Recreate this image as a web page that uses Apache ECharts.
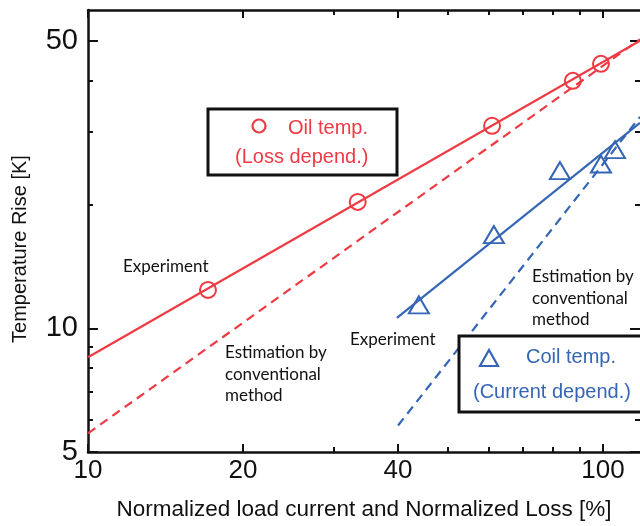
<!DOCTYPE html>
<html>
<head>
<meta charset="utf-8">
<script src="https://cdn.jsdelivr.net/npm/echarts@6/dist/echarts.min.js"></script>
<style>
html,body{margin:0;padding:0;background:#fff;}
#chart{width:640px;height:526px;}
</style>
</head>
<body>
<div id="chart"></div>
<script>
// tick values (real units, log axes)
const xMajor = [10, 20, 40, 100];
const xMinor = [30, 50, 60, 70, 80, 90];
const yMajor = [5, 10, 50];
const yMinor = [6, 7, 8, 9, 20, 30, 40];
const xRange = [10, 118];
const yRange = [5, 59.5];

// oil temperature (loss dependent)
const oilX = [17.1, 33.4, 60.9, 87.4, 99.1];
const oilY = [12.4, 20.3, 31.1, 40.0, 44.0];
const oilFitX = [10, 118];
const oilFitY = [8.5, 50.1];
const oilConvX = [10, 118];
const oilConvY = [5.55, 50.5];

// coil temperature (current dependent)
const coilX = [43.9, 61.4, 82.5, 99.1, 105.5];
const coilY = [11.4, 16.9, 24.2, 25.1, 27.2];
const coilFitX = [39.8, 118];
const coilFitY = [10.6, 31.6];
const coilConvX = [40, 118];
const coilConvY = [5.8, 32.7];

const RED = '#ee3a43';
const BLUE = '#3565b5';
const lg = Math.log10;
const pts = (xs, ys) => xs.map((x, i) => [lg(x), lg(ys[i])]);
const fmt = v => String(Math.round(Math.pow(10, v)));

function xAx(pos, ticks, len, withLine, withLabel) {
	return {
		type: 'value', position: pos, min: lg(xRange[0]), max: lg(xRange[1]),
		splitLine: {show: false},
		axisLine: {show: withLine, onZero: false, lineStyle: {color: '#111', width: 2.5}},
		axisTick: {show: true, inside: true, length: len, customValues: ticks.map(lg), lineStyle: {color: '#111', width: 2}},
		axisLabel: withLabel ? {show: true, customValues: ticks.map(lg), formatter: fmt, fontSize: 26, margin: 6, color: '#111', fontFamily: 'Liberation Sans'} : {show: false}
	};
}
function yAx(pos, ticks, len, withLine, withLabel) {
	return {
		type: 'value', position: pos, min: lg(yRange[0]), max: lg(yRange[1]),
		splitLine: {show: false},
		axisLine: {show: withLine, onZero: false, lineStyle: {color: '#111', width: 2.5}},
		axisTick: {show: true, inside: true, length: len, customValues: ticks.map(lg), lineStyle: {color: '#111', width: 2}},
		axisLabel: withLabel ? {show: true, customValues: ticks.map(lg), formatter: fmt, fontSize: 29, margin: 10, color: '#111', fontFamily: 'Liberation Sans'} : {show: false}
	};
}

const xMain = xAx('bottom', xMajor, 8, true, true);
xMain.name = 'Normalized load current and Normalized Loss [%]';
xMain.nameLocation = 'middle';
xMain.nameGap = 46;
xMain.nameTextStyle = {fontSize: 22.5, color: '#111', fontFamily: 'Liberation Sans'};
const yMain = yAx('left', yMajor, 10, true, true);
yMain.name = 'Temperature Rise [K]';
yMain.nameLocation = 'middle';
yMain.nameGap = 58;
yMain.nameTextStyle = {fontSize: 20, color: '#111', fontFamily: 'Liberation Sans', padding: [0, 36, 0, 0]};

const annFont = '17px Lato';
function note(x, y, text, color) {
	return {type: 'text', left: x, top: y, z: 10,
		style: {text: text, font: annFont, fill: color || '#111', lineHeight: 21.5}};
}
function label(x, y, text, color) {
	return {type: 'text', left: x, top: y, z: 21,
		style: {text: text, font: '20px "Liberation Sans"', fill: color}};
}

const option = {
	animation: false,
	grid: {left: 88, top: 10, right: -1, bottom: 73},
	xAxis: [xMain, xAx('bottom', xMinor, 5, false, false), xAx('top', xMajor, 8, true, false), xAx('top', xMinor, 5, false, false)],
	yAxis: [yMain, yAx('left', yMinor, 5, false, false), yAx('right', yMajor, 10, false, false), yAx('right', yMinor, 5, false, false)],
	series: [
		{type: 'line', data: pts(oilFitX, oilFitY), symbol: 'none', lineStyle: {color: RED, width: 2.2}},
		{type: 'line', data: pts(oilConvX, oilConvY), symbol: 'none', lineStyle: {color: RED, width: 2.2, type: [9, 6]}},
		{type: 'scatter', data: pts(oilX, oilY), symbol: 'emptyCircle', symbolSize: 16, itemStyle: {color: RED, borderColor: RED, borderWidth: 2.2, opacity: 1}},
		{type: 'line', data: pts(coilFitX, coilFitY), symbol: 'none', lineStyle: {color: BLUE, width: 2.2}},
		{type: 'line', data: pts(coilConvX, coilConvY), symbol: 'none', lineStyle: {color: BLUE, width: 2.2, type: [9, 6]}},
		{type: 'scatter', data: pts(coilX, coilY), symbol: 'emptyTriangle', symbolSize: [20, 17], itemStyle: {color: BLUE, borderColor: BLUE, borderWidth: 2.2, opacity: 1}}
	],
	graphic: [
		note(123, 256, 'Experiment'),
		note(225, 342, 'Estimation by\nconventional\nmethod'),
		note(350, 329, 'Experiment'),
		note(532, 266, 'Estimation by\nconventional\nmethod'),
		// oil legend box
		{type: 'rect', z: 20, shape: {x: 208, y: 109, width: 189, height: 66}, style: {fill: '#fff', stroke: '#111', lineWidth: 3}},
		{type: 'circle', z: 21, shape: {cx: 259, cy: 126, r: 6.5}, style: {fill: 'none', stroke: RED, lineWidth: 2.2}},
		label(288, 118, 'Oil temp.', RED),
		label(235, 147, '(Loss depend.)', RED),
		// coil legend box
		{type: 'rect', z: 20, shape: {x: 459, y: 336, width: 200, height: 76}, style: {fill: '#fff', stroke: '#111', lineWidth: 3}},
		{type: 'polygon', z: 21, shape: {points: [[480, 366], [498, 366], [489, 350]]}, style: {fill: 'none', stroke: BLUE, lineWidth: 2.2}},
		label(526, 347, 'Coil temp.', BLUE),
		label(473, 382, '(Current depend.)', BLUE)
	]
};

const chart = echarts.init(document.getElementById('chart'));
chart.setOption(option);
</script>
</body>
</html>
